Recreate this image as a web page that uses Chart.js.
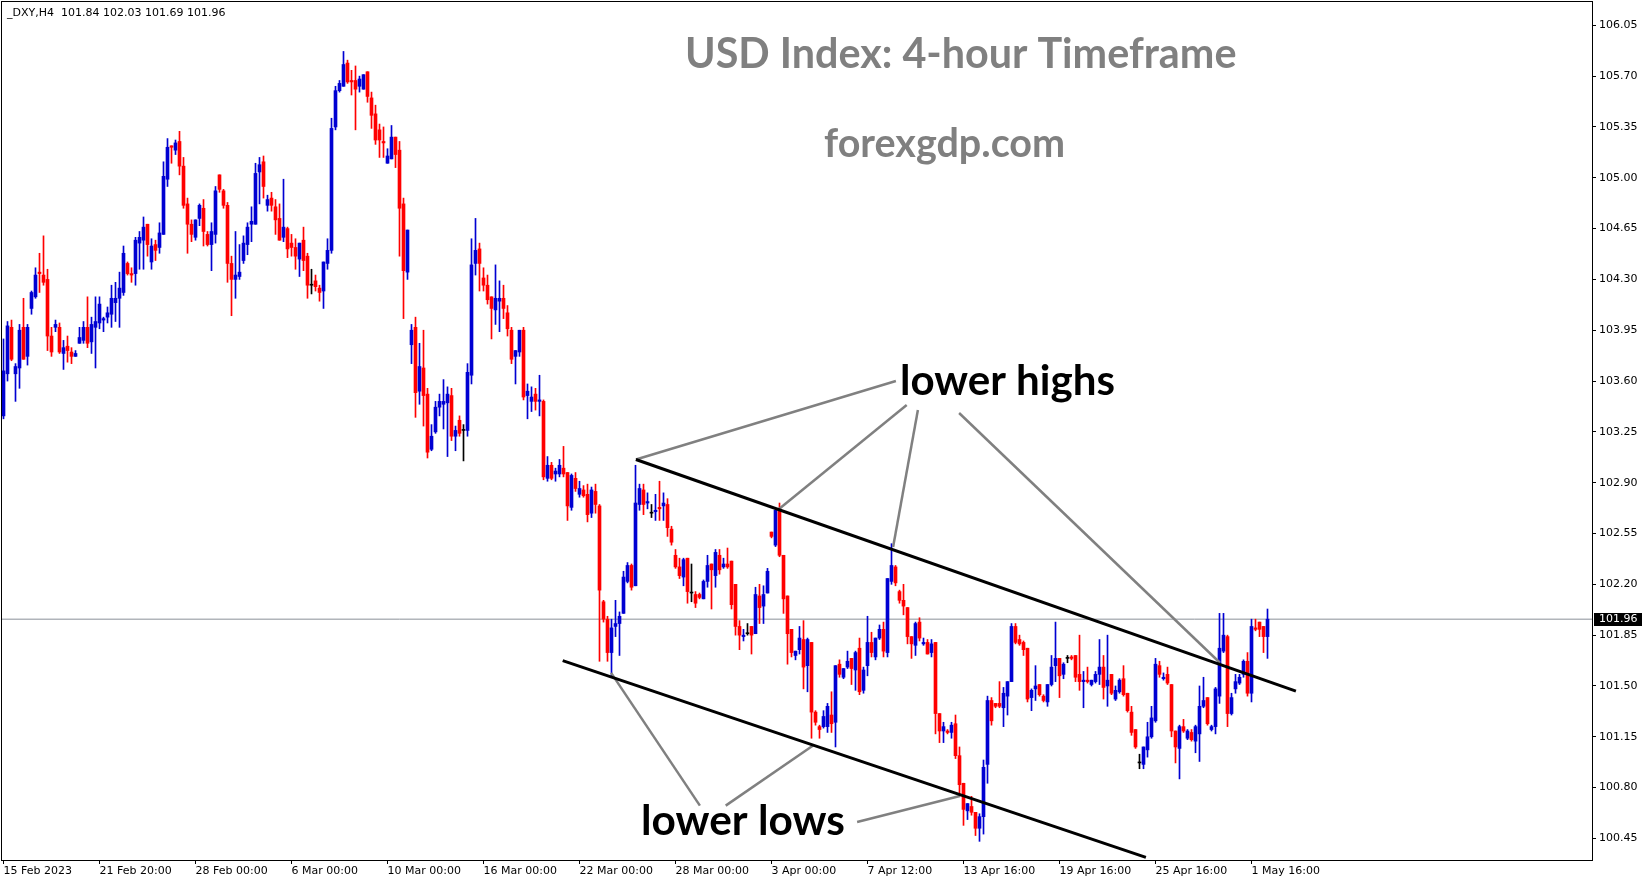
<!DOCTYPE html>
<html>
<head>
<meta charset="utf-8">
<title>USD Index: 4-hour Timeframe</title>
<script src="https://cdn.jsdelivr.net/npm/chart.js@4.4.1/dist/chart.umd.min.js"></script>
<style>
  html, body { margin: 0; padding: 0; background: #fff; }
  #wrap { width: 1649px; height: 884px; position: relative; }
</style>
</head>
<body>
<div id="wrap"><canvas id="chart"></canvas></div>
<script>
// _DXY H4 candles (one entry per 4-hour bar)
const opens = [
  103.36,103.65,103.97,103.65,103.69,103.97,103.77,104.10,104.18,104.35,
  104.33,104.30,103.91,103.97,103.97,103.79,103.84,103.80,103.77,103.86,
  103.88,103.97,103.87,103.97,104.00,104.02,104.04,104.06,104.14,104.17,
  104.21,104.41,104.34,104.34,104.55,104.57,104.68,104.42,104.54,104.52,
  104.61,104.99,105.22,105.19,105.25,105.08,104.82,104.68,104.59,104.72,
  104.79,104.61,104.54,104.61,105.02,104.91,104.81,104.41,104.30,104.32,
  104.43,104.54,104.68,104.68,105.04,105.11,104.81,104.86,104.80,104.72,
  104.59,104.65,104.55,104.52,104.44,104.57,104.46,104.26,104.29,104.24,
  104.22,104.41,104.50,105.35,105.60,105.63,105.79,105.67,105.67,105.63,
  105.61,105.73,105.55,105.44,105.33,105.25,105.10,105.13,105.28,105.19,
  104.82,104.35,103.85,103.97,103.53,103.69,103.51,103.13,103.25,103.42,
  103.44,103.45,103.50,103.22,103.33,103.26,103.26,103.64,104.41,104.51,
  104.31,104.26,104.18,104.09,104.15,104.17,104.07,103.95,103.77,103.80,
  103.95,103.50,103.46,103.51,103.46,103.46,102.93,103.02,102.96,102.96,
  103.00,102.97,102.73,102.93,102.82,102.85,102.82,102.69,102.84,102.74,
  102.08,101.96,101.73,101.91,101.93,102.00,102.22,102.33,102.19,102.75,
  102.85,102.76,102.69,102.70,102.73,102.74,102.75,102.58,102.40,102.32,
  102.25,102.38,102.14,102.13,102.13,102.10,102.22,102.34,102.26,102.40,
  102.32,102.34,102.36,102.20,101.91,101.84,101.86,101.91,101.86,102.12,
  102.05,102.14,102.56,102.47,102.72,102.40,102.12,101.89,101.71,101.75,
  101.82,101.64,101.80,101.32,101.22,101.22,101.22,101.30,101.25,101.65,
  101.56,101.63,101.69,101.61,101.76,101.47,101.64,101.80,101.70,101.83,
  101.89,101.73,102.22,102.32,102.15,102.09,102.04,101.84,101.78,101.94,
  101.79,101.80,101.73,101.80,101.31,101.19,101.19,101.18,101.24,101.02,
  100.83,100.64,100.67,100.63,100.52,100.60,100.96,101.40,101.38,101.38,
  101.35,101.43,101.53,101.91,101.82,101.80,101.76,101.42,101.48,101.51,
  101.43,101.39,101.51,101.64,101.69,101.58,101.69,101.70,101.71,101.58,
  101.53,101.54,101.51,101.53,101.58,101.63,101.50,101.58,101.41,101.46,
  101.55,101.45,101.32,101.20,100.97,100.96,101.06,101.15,101.26,101.64,
  101.55,101.58,101.51,101.19,101.07,101.22,101.14,101.18,101.12,101.17,
  101.36,101.42,101.20,101.22,101.43,101.74,101.84,101.31,101.48,101.52,
  101.58,101.67,101.45,101.90,101.94,101.91,101.84
];
const highs = [
  103.89,104.01,104.02,103.72,103.99,104.17,103.99,104.22,104.38,104.48,
  104.60,104.37,103.97,104.02,104.00,103.88,103.91,103.83,103.81,103.97,
  104.01,104.18,104.04,104.18,104.18,104.04,104.11,104.26,104.28,104.35,
  104.53,104.42,104.38,104.59,104.63,104.73,104.68,104.58,104.57,104.69,
  105.11,105.27,105.22,105.26,105.32,105.14,104.86,104.71,104.71,104.82,
  104.85,104.63,104.69,104.94,105.02,104.92,104.83,104.46,104.63,104.54,
  104.60,104.69,104.80,105.10,105.14,105.15,104.88,104.90,104.85,104.82,
  104.99,104.66,104.61,104.58,104.55,104.66,104.48,104.37,104.33,104.26,
  104.42,104.58,105.41,105.63,105.67,105.87,105.81,105.74,105.77,105.70,
  105.71,105.73,105.59,105.50,105.37,105.35,105.20,105.36,105.28,105.25,
  104.86,104.64,103.99,104.04,103.86,103.95,103.55,103.30,103.46,103.51,
  103.61,103.56,103.55,103.29,103.36,103.30,103.72,104.58,104.72,104.55,
  104.38,104.33,104.18,104.40,104.29,104.26,104.12,103.97,103.81,103.95,
  103.97,103.58,103.56,103.55,103.64,103.47,103.08,103.04,103.00,103.06,
  103.15,102.97,102.96,102.97,102.91,102.88,102.89,102.87,102.89,102.75,
  102.09,101.98,101.96,102.09,102.01,102.29,102.35,102.34,103.02,102.89,
  102.89,102.83,102.75,102.82,102.91,102.83,102.79,102.60,102.44,102.38,
  102.38,102.38,102.34,102.15,102.14,102.23,102.40,102.34,102.44,102.44,
  102.38,102.45,102.36,102.20,101.95,101.89,101.93,101.91,102.18,102.20,
  102.19,102.31,102.56,102.71,102.76,102.40,102.12,101.89,101.74,101.91,
  101.95,101.83,101.80,101.33,101.23,101.33,101.38,101.46,101.64,101.68,
  101.62,101.74,101.69,101.74,101.83,101.63,101.98,101.87,101.83,101.92,
  101.94,102.24,102.48,102.33,102.16,102.20,102.04,101.84,101.94,101.97,
  101.83,101.82,101.82,101.80,101.31,101.25,101.20,101.25,101.30,101.08,
  100.83,100.69,100.74,100.63,100.62,100.99,101.43,101.42,101.38,101.53,
  101.49,101.53,101.93,101.93,101.85,101.81,101.76,101.48,101.64,101.51,
  101.44,101.51,101.71,101.94,101.69,101.66,101.71,101.71,101.71,101.85,
  101.60,101.63,101.54,101.60,101.82,101.71,101.85,101.58,101.50,101.55,
  101.64,101.45,101.36,101.20,101.03,101.08,101.25,101.36,101.69,101.67,
  101.59,101.63,101.51,101.19,101.23,101.27,101.20,101.20,101.23,101.50,
  101.56,101.42,101.23,101.49,102.00,102.00,101.85,101.45,101.58,101.58,
  101.68,101.73,101.96,101.96,101.94,101.91,102.03
];
const lows = [
  103.34,103.60,103.74,103.46,103.55,103.75,103.71,104.06,104.17,104.21,
  104.26,103.81,103.77,103.94,103.79,103.68,103.73,103.72,103.77,103.86,
  103.86,103.83,103.79,103.69,103.96,103.94,104.00,103.97,104.01,103.97,
  104.19,104.33,104.28,104.26,104.37,104.37,104.46,104.37,104.43,104.48,
  104.61,104.94,105.10,105.16,105.02,104.79,104.48,104.56,104.57,104.67,
  104.53,104.53,104.36,104.55,104.90,104.79,104.28,104.05,104.17,104.30,
  104.41,104.47,104.56,104.68,104.82,104.86,104.77,104.77,104.61,104.57,
  104.56,104.45,104.46,104.37,104.32,104.36,104.17,104.20,104.22,104.15,
  104.10,104.37,104.48,105.33,105.59,105.63,105.65,105.57,105.33,105.59,
  105.61,105.52,105.34,105.23,105.14,105.14,105.10,105.13,105.07,104.46,
  104.03,104.30,103.72,103.35,103.44,103.29,103.07,103.12,103.24,103.36,
  103.27,103.08,103.19,103.12,103.22,103.05,103.22,103.58,104.33,104.22,
  104.22,104.13,103.89,103.99,103.94,104.03,103.91,103.72,103.58,103.77,
  103.47,103.34,103.39,103.40,103.36,102.92,102.91,102.92,102.91,102.94,
  102.94,102.64,102.71,102.84,102.80,102.80,102.63,102.66,102.69,101.67,
  101.94,101.67,101.57,101.84,101.71,102.00,102.21,102.16,102.19,102.71,
  102.68,102.72,102.66,102.64,102.64,102.64,102.53,102.47,102.31,102.24,
  102.19,102.07,102.08,102.04,102.10,102.10,102.18,102.03,102.18,102.27,
  102.31,102.31,102.03,101.85,101.75,101.81,101.85,101.72,101.86,101.93,
  101.93,102.14,102.52,102.46,102.39,102.00,101.65,101.70,101.68,101.72,
  101.48,101.46,101.14,101.23,101.14,101.21,101.18,101.18,101.08,101.56,
  101.55,101.62,101.51,101.47,101.44,101.45,101.57,101.70,101.68,101.82,
  101.70,101.70,102.20,102.19,102.07,101.99,101.79,101.69,101.71,101.81,
  101.78,101.72,101.70,101.17,101.11,101.11,101.17,101.14,101.00,100.74,
  100.54,100.58,100.61,100.47,100.43,100.48,100.83,101.23,101.35,101.35,
  101.22,101.30,101.53,101.79,101.78,101.71,101.39,101.33,101.40,101.43,
  101.39,101.36,101.50,101.53,101.42,101.55,101.66,101.68,101.53,101.47,
  101.35,101.52,101.50,101.52,101.51,101.41,101.36,101.44,101.40,101.45,
  101.43,101.32,101.16,101.07,100.93,100.93,101.01,101.14,101.25,101.56,
  101.54,101.51,101.15,100.97,100.86,101.18,101.13,101.12,101.04,100.98,
  101.35,101.23,101.19,101.17,101.38,101.73,101.22,101.30,101.45,101.51,
  101.56,101.43,101.39,101.88,101.84,101.73,101.69
];
const closes = [
  103.67,103.98,103.75,103.70,103.95,103.75,103.97,104.21,104.33,104.34,
  104.28,103.91,103.80,103.99,103.80,103.83,103.81,103.77,103.79,103.90,
  103.97,103.86,103.99,104.01,104.13,104.03,104.07,104.17,104.17,104.24,
  104.48,104.34,104.33,104.57,104.59,104.66,104.54,104.53,104.50,104.62,
  105.01,105.21,105.21,105.24,105.08,104.81,104.68,104.61,104.71,104.81,
  104.63,104.54,104.63,104.91,104.92,104.81,104.41,104.30,104.33,104.35,
  104.55,104.66,104.70,105.03,105.09,104.94,104.85,104.81,104.71,104.57,
  104.66,104.51,104.52,104.46,104.55,104.43,104.26,104.26,104.25,104.21,
  104.42,104.50,105.34,105.60,105.65,105.78,105.66,105.66,105.61,105.68,
  105.71,105.56,105.43,105.26,105.26,105.24,105.15,105.28,105.16,104.79,
  104.36,104.64,103.95,103.52,103.70,103.50,103.11,103.22,103.42,103.46,
  103.46,103.51,103.22,103.26,103.24,103.26,103.66,104.40,104.50,104.41,
  104.26,104.16,104.10,104.17,104.17,104.10,103.96,103.75,103.81,103.95,
  103.49,103.53,103.49,103.46,103.47,102.94,103.02,102.93,102.98,103.02,
  102.96,102.74,102.95,102.86,102.86,102.81,102.68,102.85,102.75,102.16,
  101.96,101.73,101.90,101.93,101.98,102.25,102.33,102.18,102.76,102.86,
  102.75,102.77,102.69,102.71,102.72,102.76,102.59,102.49,102.32,102.26,
  102.37,102.15,102.14,102.07,102.11,102.22,102.33,102.30,102.42,102.30,
  102.34,102.32,102.06,101.91,101.85,101.85,101.86,101.85,102.13,102.04,
  102.13,102.29,102.53,102.71,102.40,102.10,101.86,101.73,101.74,101.83,
  101.63,101.82,101.32,101.25,101.20,101.29,101.36,101.24,101.64,101.58,
  101.62,101.67,101.62,101.73,101.46,101.61,101.80,101.73,101.83,101.89,
  101.74,102.24,102.33,102.21,102.09,102.05,101.84,101.79,101.93,101.83,
  101.80,101.72,101.79,101.31,101.19,101.22,101.18,101.23,101.02,100.82,
  100.65,100.69,100.63,100.52,100.60,100.94,101.40,101.26,101.36,101.36,
  101.45,101.53,101.91,101.80,101.79,101.75,101.41,101.47,101.50,101.44,
  101.40,101.51,101.63,101.69,101.57,101.65,101.69,101.69,101.56,101.53,
  101.54,101.53,101.54,101.58,101.63,101.49,101.54,101.45,101.47,101.54,
  101.44,101.33,101.18,101.08,100.97,101.08,101.15,101.28,101.65,101.58,
  101.56,101.52,101.19,101.08,101.22,101.19,101.19,101.13,101.22,101.36,
  101.40,101.24,101.22,101.48,101.76,101.85,101.31,101.42,101.53,101.56,
  101.67,101.45,101.91,101.89,101.89,101.84,101.96
];

// time axis labels, one every 24 bars
const timeLabels = ['15 Feb 2023', '21 Feb 20:00', '28 Feb 00:00', '6 Mar 00:00', '10 Mar 00:00',
  '16 Mar 00:00', '22 Mar 00:00', '28 Mar 00:00', '3 Apr 00:00', '7 Apr 12:00',
  '13 Apr 16:00', '19 Apr 16:00', '25 Apr 16:00', '1 May 16:00'];
const barsPerLabel = 24;

// price axis labels
const priceTicks = [100.45, 100.80, 101.15, 101.50, 101.85, 102.20, 102.55, 102.90,
  103.25, 103.60, 103.95, 104.30, 104.65, 105.00, 105.35, 105.70, 106.05];

// drawn lines as [barIndex, price] pairs
const channelUpper = [[158.1, 103.06], [323.1, 101.465]];
const channelLower = [[139.8, 101.675], [285.6, 100.32]];
const highPointers = [
  [[223.1, 103.60], [158.1, 103.06]],
  [[225.8, 103.435], [193.95, 102.72]],
  [[228.6, 103.40], [222.4, 102.457]],
  [[238.9, 103.38], [304.1, 101.66]]
];
const lowPointers = [
  [[174.1, 100.676], [151.9, 101.59]],
  [[180.55, 100.676], [202.4, 101.09]],
  [[213.4, 100.563], [239.1, 100.742]]
];

const BULL = '#0000d2';
const BEAR = '#ff0000';
const DOJI = '#000000';
const FONT = '"DejaVu Sans", Verdana, sans-serif';

const lastIdx = closes.length - 1;
const lastPrice = closes[lastIdx];

const candleColors = closes.map((c, i) => c > opens[i] ? BULL : (c < opens[i] ? BEAR : DOJI));

const toPts = seg => seg.map(p => ({ x: p[0], y: p[1] }));
const lineSet = (seg, color, width) => ({
  type: 'line',
  data: toPts(seg),
  borderColor: color,
  borderWidth: width,
  pointRadius: 0,
  tension: 0,
  order: 0
});

// text overlays, header and the price box
const overlays = {
  id: 'overlays',
  afterDraw(chart) {
    const { ctx, chartArea } = chart;
    const y = chart.scales.y;

    ctx.save();
    // frame
    ctx.strokeStyle = '#000';
    ctx.lineWidth = 1;
    ctx.strokeRect(1.5, 1.5, chartArea.right - 1, chartArea.bottom - 1);

    // header
    ctx.font = '11px ' + FONT;
    ctx.fillStyle = '#000';
    ctx.textAlign = 'left';
    ctx.textBaseline = 'middle';
    const hdr = '_DXY,H4  ' + [opens[lastIdx], highs[lastIdx], lows[lastIdx], closes[lastIdx]]
      .map(v => v.toFixed(2)).join(' ');
    ctx.fillText(hdr, 7, 13);

    const fitText = (text, color, left, right, cy) => {
      ctx.font = 'bold 100px Lato, "Open Sans", sans-serif';
      const w = ctx.measureText(text).width;
      ctx.font = 'bold ' + (100 * (right - left) / w).toFixed(1) + 'px Lato, "Open Sans", sans-serif';
      ctx.fillStyle = color;
      ctx.textAlign = 'left';
      ctx.textBaseline = 'middle';
      ctx.fillText(text, left, cy);
    };
    fitText('USD Index: 4-hour Timeframe', '#808080', 685, 1236, 55);
    fitText('forexgdp.com', '#808080', 824, 1065, 144);
    fitText('lower highs', '#000', 900, 1115, 381);
    fitText('lower lows', '#000', 641, 845, 821);

    // current price box on the axis
    const py = Math.round(y.getPixelForValue(lastPrice));
    ctx.fillStyle = '#000';
    ctx.fillRect(chartArea.right + 2, py - 6, 48, 13);
    ctx.fillStyle = '#fff';
    ctx.font = '11px ' + FONT;
    ctx.textBaseline = 'middle';
    ctx.fillText(lastPrice.toFixed(2), chartArea.right + 7, py + 0.5);
    ctx.restore();
  }
};

const xMin = -0.375;
const xMax = 397.125;

new Chart(document.getElementById('chart'), {
  type: 'bar',
  data: {
    datasets: [
      // wicks
      {
        data: closes.map((c, i) => ({ x: i, y: [Math.min(lows[i], opens[i], c), Math.max(highs[i], opens[i], c)] })),
        backgroundColor: candleColors,
        barThickness: 1,
        grouped: false,
        order: 2
      },
      // bodies
      {
        data: closes.map((c, i) => ({ x: i, y: [opens[i], c] })),
        backgroundColor: candleColors,
        barThickness: 3,
        minBarLength: 1,
        grouped: false,
        order: 1
      },
      // bid line
      Object.assign(lineSet([[xMin, lastPrice], [xMax, lastPrice]], '#8a9098', 1), { order: 3 }),
      lineSet(channelUpper, '#000', 3),
      lineSet(channelLower, '#000', 3),
      ...highPointers.map(s => lineSet(s, '#808080', 2.5)),
      ...lowPointers.map(s => lineSet(s, '#808080', 2.5))
    ]
  },
  options: {
    responsive: true,
    maintainAspectRatio: false,
    animation: false,
    layout: { padding: { left: 2, top: 2, right: 0, bottom: 0 } },
    plugins: {
      legend: { display: false },
      tooltip: { enabled: false }
    },
    scales: {
      x: {
        type: 'linear',
        position: 'bottom',
        min: xMin,
        max: xMax,
        offset: false,
        afterBuildTicks: s => { s.ticks = timeLabels.map((_, i) => ({ value: i * barsPerLabel })); },
        afterFit: s => { s.height = 24; s.paddingLeft = 0; s.paddingRight = 0; },
        ticks: {
          callback: (v, i) => timeLabels[i],
          align: 'start',
          autoSkip: false,
          maxRotation: 0,
          padding: 1,
          color: '#000',
          font: { family: FONT, size: 11 }
        },
        grid: { drawOnChartArea: false, offset: false, tickLength: 4, color: '#000' },
        border: { color: '#000' }
      },
      y: {
        type: 'linear',
        position: 'right',
        min: 100.3015,
        max: 106.2105,
        afterBuildTicks: s => { s.ticks = priceTicks.map(v => ({ value: v })); },
        afterFit: s => { s.width = 57; s.paddingTop = 0; s.paddingBottom = 0; },
        ticks: {
          callback: v => v.toFixed(2),
          padding: 3,
          color: '#000',
          font: { family: FONT, size: 11 }
        },
        grid: { drawOnChartArea: false, tickLength: 4, color: '#000' },
        border: { color: '#000' }
      }
    }
  },
  plugins: [overlays]
});
</script>
</body>
</html>
